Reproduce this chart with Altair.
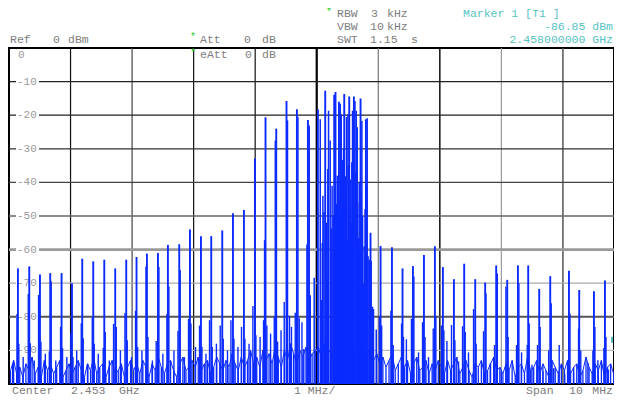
import altair as alt
import pandas as pd

# ---------------- data ----------------
center_mhz = 2453.0
span_mhz = 10.0
ref_dbm = 0.0
bottom_dbm = -100.0
start_mhz = center_mhz - span_mhz / 2
shown_span_mhz = 9.83           # the screenshot is cropped before the right edge of the graticule
marker_db = -86.85
marker_ghz = 2.458

# main comb lines: offset from start frequency (MHz), level (dBm)
main_off = [0.145, 0.329, 0.503, 0.670, 0.854, 1.023, 1.190, 1.369, 1.548, 1.726,
            1.905, 2.072, 2.241, 2.420, 2.582, 2.766, 2.940, 3.119, 3.286, 3.465,
            3.639, 3.817, 3.996, 4.168, 4.342, 4.509, 4.678, 4.857, 5.019, 5.138,
            5.284, 5.305, 5.361, 5.447, 5.528, 5.604, 5.712, 5.799, 5.874, 6.037,
            6.222, 6.394, 6.563, 6.742, 6.920, 7.050, 7.229, 7.396, 7.575, 7.737,
            7.916, 8.095, 8.269, 8.436, 8.615, 8.794, 9.098, 9.265, 9.504, 9.683,
            9.862]
main_db = [-65.6, -65.0, -67.4, -67.0, -67.0, -70.0, -62.7, -63.5, -63.0, -65.6,
           -63.0, -62.2, -61.2, -61.0, -58.6, -58.4, -54.0, -56.0, -56.0, -54.3,
           -49.2, -48.2, -32.9, -20.6, -24.0, -15.8, -18.2, -21.4, -18.3, -12.7,
           -13.9, -13.1, -16.0, -13.7, -14.4, -14.4, -15.0, -21.2, -55.0, -58.9,
           -59.3, -65.6, -64.9, -61.6, -59.0, -65.2, -68.8, -64.2, -68.8, -69.8,
           -64.7, -69.0, -64.7, -64.7, -71.7, -67.9, -66.3, -72.0, -72.4, -69.2,
           -65.7]

# dense centre cluster
cluster_off = [4.878, 5.057, 5.192, 5.219, 5.382, 5.398, 5.419, 5.463, 5.484, 5.507,
               5.544, 5.582, 5.621, 5.642, 5.658, 5.734, 5.820, 4.841, 4.895, 4.959,
               5.073, 5.117, 5.171, 5.236, 5.268, 5.322, 5.344, 5.679, 5.762, 5.853,
               5.885, 5.907, 5.967, 6.020, 5.090, 5.100, 5.155, 5.180, 5.250, 5.295,
               5.335, 5.370, 5.410, 5.435, 5.470, 5.495, 5.515, 5.535, 5.560, 5.570,
               5.595, 5.630, 5.665, 5.690, 5.700, 5.720, 5.745, 5.770, 5.785, 5.810,
               5.835, 5.865]
cluster_db = [-23.1, -21.2, -18.7, -27.5, -16.6, -19.7, -33.3, -38.2, -20.5, -19.7,
              -39.1, -18.7, -15.8, -18.7, -23.6, -21.7, -20.9, -58.5, -73.6, -68.4,
              -75.0, -48.8, -69.0, -53.7, -49.8, -46.4, -68.3, -56.6, -70.2, -63.0,
              -63.4, -77.0, -83.8, -79.9, -58.0, -44.0, -52.0, -36.0, -41.0, -55.0,
              -38.0, -45.0, -50.0, -30.0, -43.0, -57.0, -35.0, -47.0, -52.0, -34.0,
              -44.0, -37.0, -46.0, -40.0, -60.0, -43.0, -50.0, -59.0, -48.0, -41.0,
              -62.0, -66.0]

# side lines / spurs next to the comb lines
side_off = [0.129, 0.160, 0.313, 0.345, 0.480, 0.519, 0.655, 0.686, 0.838, 0.870,
            1.006, 1.040, 1.174, 1.206, 1.353, 1.385, 1.531, 1.564, 1.699, 1.743,
            1.884, 1.921, 2.056, 2.090, 2.225, 2.258, 2.392, 2.436, 2.566, 2.598,
            2.745, 2.782, 2.917, 2.956, 3.096, 3.135, 3.258, 3.302, 3.432, 3.481,
            3.606, 3.655, 3.778, 3.833, 3.963, 4.012, 4.136, 4.152, 4.190, 4.310,
            4.326, 4.364, 4.472, 4.526, 4.558, 4.651, 4.695, 4.716, 4.760, 4.790,
            5.923, 6.055, 6.205, 6.243, 6.378, 6.410, 6.457, 6.539, 6.579, 6.719,
            6.760, 6.893, 6.936, 7.027, 7.066, 7.190, 7.245, 7.369, 7.413, 7.548,
            7.590, 7.710, 7.750, 7.889, 7.934, 8.074, 8.110, 8.246, 8.285, 8.420,
            8.452, 8.587, 8.630, 8.768, 8.810, 8.940, 9.115, 9.254, 9.290, 9.487,
            9.520, 9.666, 9.700, 9.838, 9.880, 9.950,
            6.654, 6.816, 7.115, 7.304, 7.466, 7.819, 7.998, 8.328, 8.497, 8.676,
            8.850, 9.029, 9.172, 9.406, 9.568, 9.739, 9.918,
            0.060, 0.230, 0.410, 0.590, 0.760, 0.940, 1.100, 1.280, 1.450, 1.630,
            1.810, 1.990, 2.160, 2.330, 2.500, 2.680, 2.850, 3.030, 3.200, 3.370,
            3.550, 3.720, 3.900, 4.080, 4.250, 4.420, 4.590]
side_db = [-79.2, -88.0, -73.2, -87.9, -73.5, -87.4, -90.3, -69.5, -83.0, -89.3,
           -85.0, -92.0, -81.9, -86.4, -80.2, -88.0, -89.3, -84.5, -82.1, -83.0,
           -78.9, -87.0, -78.2, -89.0, -65.0, -86.0, -87.2, -65.2, -79.2, -71.0,
           -84.2, -66.1, -80.6, -82.0, -82.6, -88.9, -81.0, -89.0, -82.6, -86.5,
           -81.0, -86.5, -83.0, -86.5, -76.8, -85.5, -81.0, -57.2, -82.6, -79.9,
           -27.6, -87.4, -75.6, -21.6, -79.7, -78.8, -20.5, -80.4, -81.6, -89.6,
           -77.7, -82.6, -78.2, -88.4, -82.0, -86.0, -86.7, -80.6, -68.0, -81.6,
           -86.0, -83.5, -80.0, -82.6, -84.0, -82.4, -87.0, -82.8, -84.5, -77.7,
           -88.0, -84.3, -73.0, -88.4, -67.1, -71.0, -86.0, -88.4, -70.0, -88.4,
           -82.0, -88.4, -83.0, -90.0, -76.0, -88.4, -79.0, -83.5, -90.0, -90.0,
           -83.0, -89.3, -86.0, -85.0, -75.0, -85.0,
           -90.6, -92.0, -87.2, -93.3, -90.6, -93.8, -96.2, -90.6, -94.3, -96.2,
           -95.3, -97.1, -96.7, -93.8, -92.9, -95.7, -95.7,
           -94.0, -92.0, -93.0, -91.0, -93.0, -92.0, -90.0, -94.0, -91.0, -93.0,
           -90.0, -92.0, -90.0, -93.0, -91.0, -90.0, -92.0, -89.0, -91.0, -88.0,
           -90.0, -89.0, -88.0, -86.0, -85.0, -84.0, -83.0]

# noise floor, one reading every 50 kHz from 25 kHz above the start frequency
noise_first_off = 0.025
noise_step = 0.05
noise_db = [-96, -93, -97, -95, -98, -94, -96, -92, -97, -95, -98, -93, -96, -94, -97, -95, -93, -98, -96, -94,
            -97, -95, -93, -96, -98, -94, -96, -92, -97, -95, -94, -98, -95, -93, -97, -96, -94, -98, -95, -93,
            -96, -94, -97, -93, -95, -98, -94, -96, -92, -95, -97, -94, -93, -96, -98, -94, -92, -96, -95, -93,
            -95, -92, -96, -94, -93, -97, -95, -92, -94, -96, -93, -95, -91, -94, -96, -92, -95, -93, -90, -94,
            -92, -95, -90, -93, -91, -94, -89, -92, -95, -90, -93, -88, -91, -94, -90, -92, -89, -93, -91, -90,
            -89, -92, -88, -91, -90, -93, -89, -91, -88, -92, -90, -89, -93, -90, -88, -92, -91, -89, -93, -91,
            -94, -92, -95, -93, -91, -96, -94, -92, -95, -93, -97, -94, -92, -96, -95, -93, -97, -94, -96, -93,
            -95, -97, -93, -96, -94, -92, -97, -95, -93, -96, -98, -94, -95, -93, -97, -96, -94, -92, -96, -95,
            -97, -94, -96, -93, -98, -95, -94, -97, -92, -96, -95, -93, -97, -94, -96, -98, -93, -95, -97, -94,
            -96, -93, -97, -95, -94, -98, -96, -92, -95, -97, -94, -96, -93, -98, -95, -94, -97, -93, -96, -95]

y_ticks = [0, -10, -20, -30, -40, -50, -60, -70, -80, -90]

# ---------------- styling / layout ----------------
BLUE = "#0b2bff"
GRAY = "#7d7d7d"
CYAN = "#55c3c3"
GREEN = "#1fd01f"
FONT = "Liberation Mono"
PAD_L, PAD_T, PAD_B = 1, 40, 12
W, H = 605, 336
X0, Y0 = 8 + PAD_L, 8 + PAD_T   # plot origin on the page (for pixel-placed annotations)
RIGHT = 8 + PAD_L + W            # right edge of the drawing on the page

vgrid_color = ["#111111", "#444444", "#111111", "#111111", "#000000", "#777777", "#111111", "#999999", "#555555"]
vgrid_width = [1.2, 1.2, 1.2, 1.2, 2.2, 1.2, 1.5, 1.2, 1.5]
hgrid_color = ["#222222", "#222222", "#333333", "#444444", "#666666", "#9a9a9a", "#aaaaaa", "#555555", "#bbbbbb"]
hgrid_width = [1.3, 1.3, 1.3, 1.3, 1.3, 2.6, 1.2, 2.0, 1.2]

xs = alt.Scale(domain=[start_mhz, start_mhz + shown_span_mhz], nice=False, zero=False)
ys = alt.Scale(domain=[bottom_dbm, ref_dbm], nice=False, zero=False)
X = lambda: alt.X("f:Q", scale=xs, axis=None)
Y = lambda: alt.Y("db:Q", scale=ys, axis=None)


def table(off, db):
    return pd.DataFrame({"f": [start_mhz + o for o in off], "db": db})


layers = []

# graticule
vg = pd.DataFrame({"f": [start_mhz + i for i in range(1, int(span_mhz))],
                   "c": vgrid_color, "w": vgrid_width})
layers.append(alt.Chart(vg).mark_rule().encode(
    x=X(), color=alt.Color("c:N", scale=None),
    strokeWidth=alt.StrokeWidth("w:Q", scale=None)))
hg = pd.DataFrame({"db": y_ticks[1:], "c": hgrid_color, "w": hgrid_width})
layers.append(alt.Chart(hg).mark_rule().encode(
    y=Y(), color=alt.Color("c:N", scale=None),
    strokeWidth=alt.StrokeWidth("w:Q", scale=None)))

# level labels inside the graticule, with a white knock-out
lab = pd.DataFrame({"db": y_ticks[1:], "t": [str(v) for v in y_ticks[1:]]})
layers.append(alt.Chart(lab).mark_rect(color="white", yOffset=-4, y2Offset=4).encode(
    x=alt.value(7), x2=alt.value(30), y=Y(), y2=alt.Y2("db:Q")))
layers.append(alt.Chart(lab).mark_text(font=FONT, fontSize=11, color="#9a9a9a",
                                       align="left", baseline="middle").encode(
    x=alt.value(8), y=Y(), text="t:N"))
layers.append(alt.Chart(pd.DataFrame({"db": [0], "t": ["0"]})).mark_text(
    font=FONT, fontSize=11, color="#9a9a9a", align="left", baseline="middle", dy=7).encode(
    x=alt.value(9), y=Y(), text="t:N"))


def txt(s, x, y, color=GRAY, align="left", size=11.5):
    return alt.Chart(pd.DataFrame({"t": [s]})).mark_text(
        font=FONT, fontSize=size, color=color, align=align, baseline="middle").encode(
        text="t:N", x=alt.value(x - X0), y=alt.value(y - Y0))


# text inside the plot
layers += [txt("*", 193, 53, GREEN, "center", 10), txt("eAtt", 200, 55),
           txt("0", 245, 55), txt("dB", 262, 55)]

# trace
nz = pd.DataFrame({"f": [start_mhz + noise_first_off + i * noise_step for i in range(len(noise_db))],
                   "db": noise_db})
nz = nz[nz["f"] <= start_mhz + shown_span_mhz]
layers.append(alt.Chart(nz).mark_rule(color=BLUE, strokeWidth=1.3).encode(
    x=X(), y=Y(), y2=alt.datum(bottom_dbm)))
layers.append(alt.Chart(nz).mark_line(color=BLUE, strokeWidth=1).encode(x=X(), y=Y()))
for (off, db), sw in [((side_off, side_db), 1.4), ((cluster_off, cluster_db), 1.5),
                      ((main_off, main_db), 1.9)]:
    t = table(off, db)
    t = t[t["f"] <= start_mhz + shown_span_mhz]
    layers.append(alt.Chart(t).mark_rule(color=BLUE, strokeWidth=sw).encode(
        x=X(), y=Y(), y2=alt.datum(bottom_dbm)))

# frame details and markers
one = pd.DataFrame({"a": [0]})
layers.append(alt.Chart(one).mark_rule(color="#222222", strokeWidth=1).encode(
    x=alt.value(-2), y=alt.value(0), y2=alt.value(H)))
layers.append(alt.Chart(one).mark_rule(color=BLUE, strokeWidth=1.3).encode(
    x=alt.value(2 - X0), y=alt.value(107 - Y0), y2=alt.value(118 - Y0)))
layers.append(alt.Chart(pd.DataFrame({"db": [marker_db]})).mark_rule(
    color=CYAN, strokeWidth=2, yOffset=-3, y2Offset=3).encode(
    x=alt.value(RIGHT - 2 - X0), y=Y(), y2=alt.Y2("db:Q")))

# header
layers += [
    txt("*", 329, 12, GREEN, "center", 10),
    txt("RBW", 337, 14), txt("3", 371, 14), txt("kHz", 387, 14),
    txt("Marker 1 [T1 ]", 463, 14, CYAN),
    txt("VBW", 337, 27), txt("10", 370, 27), txt("kHz", 387, 27),
    txt(f"{marker_db:.2f} dBm", RIGHT - 1, 27, CYAN, "right"),
    txt("Ref", 10, 40), txt(f"{ref_dbm:.0f}", 53, 40), txt("dBm", 68, 40),
    txt("*", 193, 37, GREEN, "center", 10),
    txt("Att", 200, 40), txt("0", 244, 40), txt("dB", 262, 40),
    txt("SWT", 337, 40), txt("1.15", 370, 40), txt("s", 411, 40),
    txt(f"{marker_ghz:.9f} GHz", RIGHT - 1, 40, CYAN, "right"),
]
# footer
FY = 8 + PAD_T + H + 7
layers += [
    txt("Center", 12, FY), txt(f"{center_mhz / 1000:.3f}", 71, FY), txt("GHz", 119, FY),
    txt(f"{span_mhz / 10:.0f} MHz/", 294, FY),
    txt("Span", 526, FY), txt(f"{span_mhz:.0f}", 569, FY), txt("MHz", RIGHT - 1, FY, align="right"),
]

chart = alt.layer(*layers).properties(
    width=W, height=H,
    padding={"left": PAD_L, "top": PAD_T, "right": 0, "bottom": PAD_B},
    autosize=alt.AutoSizeParams(type="none"),
    background="white",
).configure_view(stroke="#000000", strokeWidth=2)

chart.save("out.html", embed_options={"renderer": "svg", "actions": False})
